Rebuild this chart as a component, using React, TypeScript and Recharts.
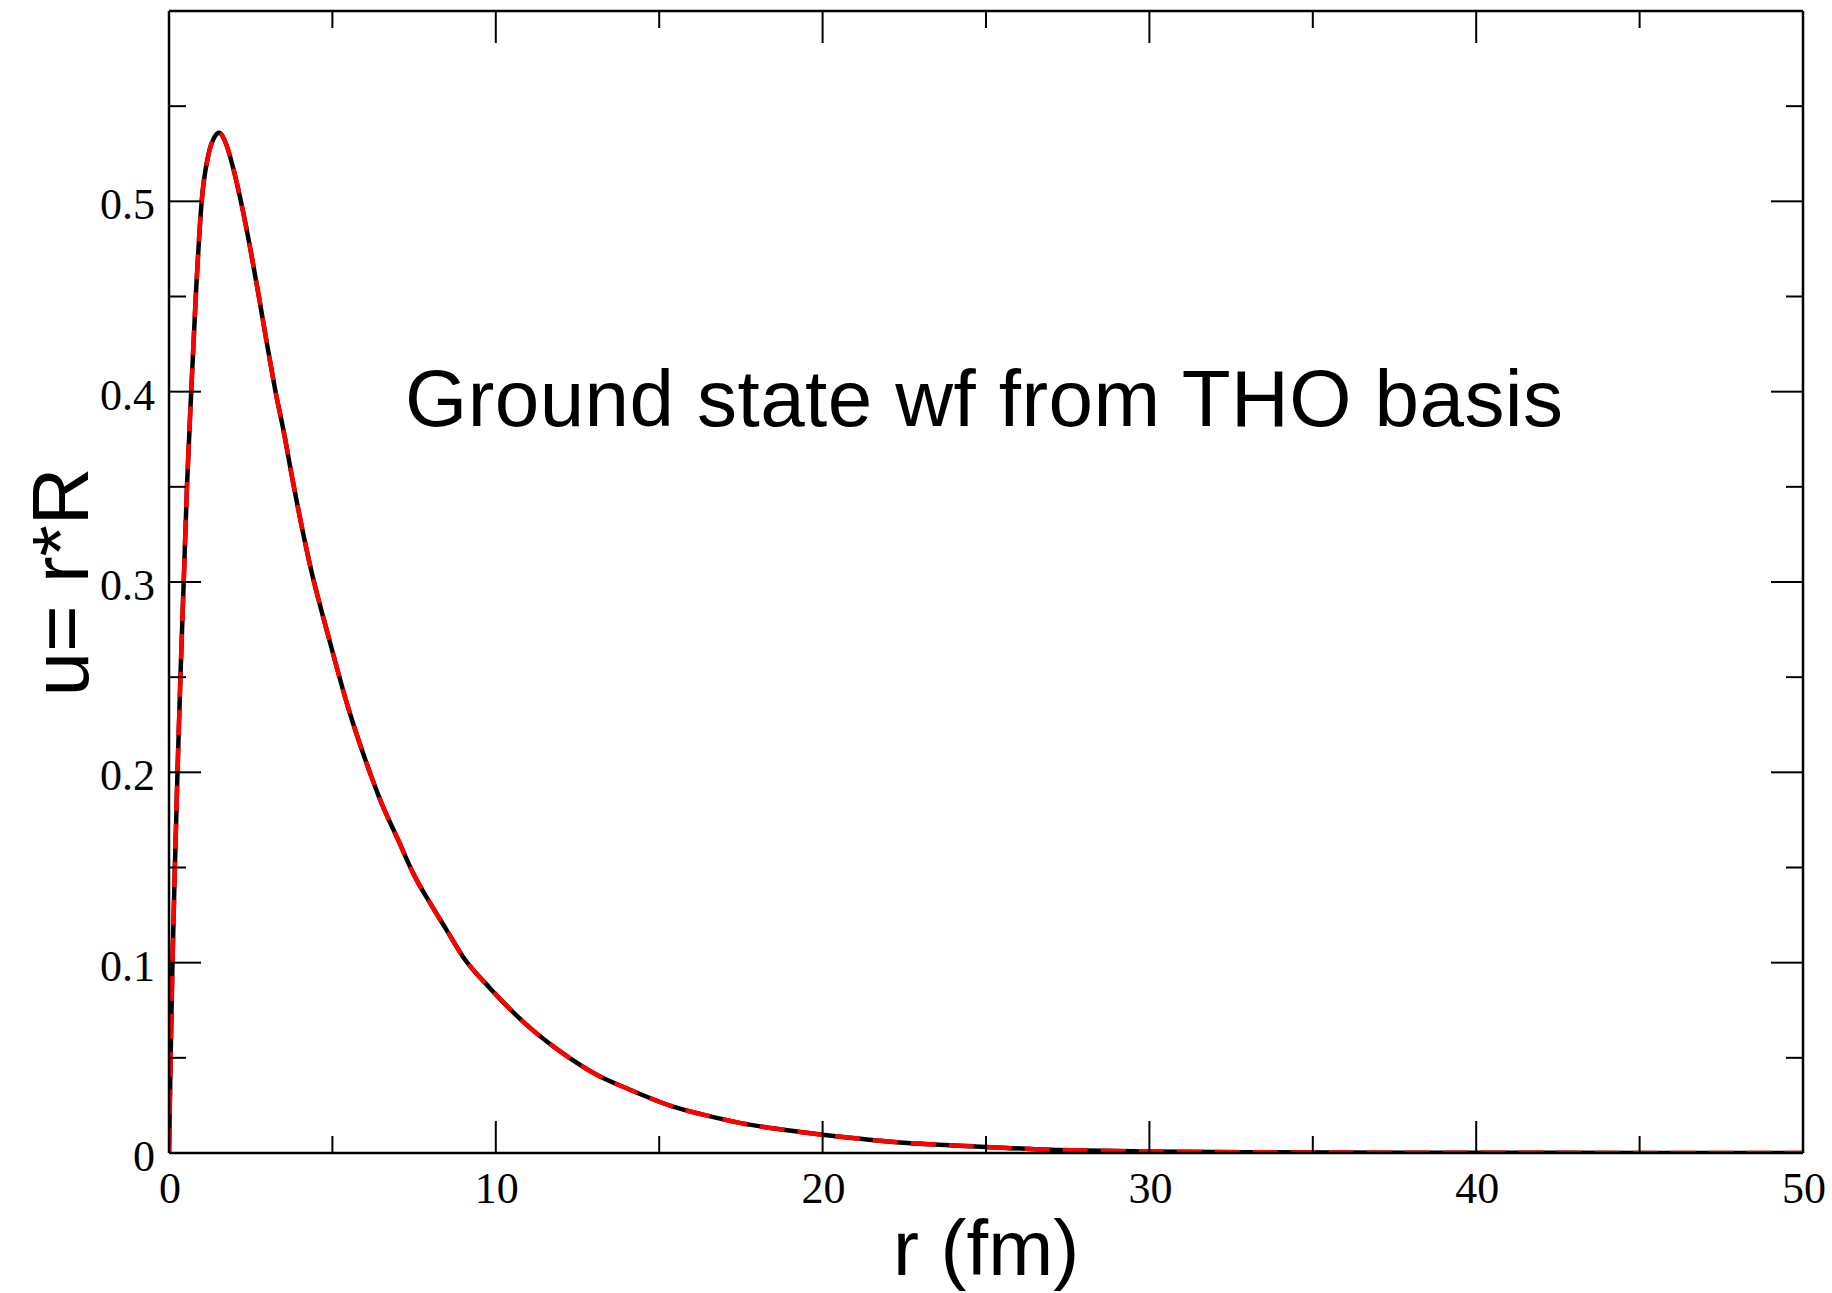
import { LineChart, Line, XAxis, YAxis } from "recharts";

// r in fm, u = r*R
const rValues = [
  0, 0.05, 0.1, 0.18, 0.26, 0.35, 0.45, 0.55, 0.68, 0.82, 1.0, 1.2, 1.4, 1.53, 1.75, 2.0, 2.2, 2.5, 2.75, 3.0,
  3.26, 3.5, 3.8, 4.3, 4.9, 5.5, 6.0, 6.5, 7.0, 7.5, 8.0, 8.5, 9.0, 9.8, 10.9, 12.0, 13.1, 14.0, 15.4, 16.5,
  17.5, 18.8, 20, 21.3, 22.6, 24, 25, 26.5, 28, 30, 33, 36, 40, 45, 50,
];
const uExact = [
  0, 0.05, 0.095, 0.15, 0.2, 0.25, 0.3, 0.35, 0.4, 0.45, 0.5, 0.524, 0.534, 0.536, 0.53, 0.515, 0.5, 0.474, 0.45, 0.425,
  0.4, 0.38, 0.352, 0.31, 0.27, 0.233, 0.207, 0.184, 0.165, 0.146, 0.131, 0.117, 0.103, 0.087, 0.068, 0.053, 0.041, 0.034, 0.0245, 0.0195,
  0.0157, 0.0122, 0.0096, 0.0072, 0.0052, 0.004, 0.0032, 0.002, 0.0013, 0.0008, 0.0004, 0.0002, 0.0001, 0.00005, 0,
];
const uTho = [
  0, 0.05, 0.095, 0.15, 0.2, 0.25, 0.3, 0.35, 0.4, 0.45, 0.5, 0.524, 0.534, 0.536, 0.53, 0.515, 0.5, 0.474, 0.45, 0.425,
  0.4, 0.38, 0.352, 0.31, 0.27, 0.233, 0.207, 0.184, 0.165, 0.146, 0.131, 0.117, 0.103, 0.087, 0.068, 0.053, 0.041, 0.034, 0.0245, 0.0195,
  0.0157, 0.0122, 0.0096, 0.0072, 0.0052, 0.004, 0.0032, 0.002, 0.0013, 0.0008, 0.0004, 0.0002, 0.0001, 0.00005, 0,
];

const xTicks = [0, 5, 10, 15, 20, 25, 30, 35, 40, 45, 50];
const yTicks = [0, 0.05, 0.1, 0.15, 0.2, 0.25, 0.3, 0.35, 0.4, 0.45, 0.5, 0.55, 0.6];
const xLabels = [0, 10, 20, 30, 40, 50];
const yLabels = [0, 0.1, 0.2, 0.3, 0.4, 0.5];

const data = rValues.map((r, i) => ({ r, exact: uExact[i], tho: uTho[i] }));

const W = 1832;
const H = 1293;
const MAJOR = 32;
const MINOR = 17;
const serif = "'Liberation Serif', 'Times New Roman', serif";
const sans = "'Liberation Sans', Arial, Helvetica, sans-serif";
const axisStyle = { stroke: "#000", strokeWidth: 2.5 };

const isLabelled = (list: number[], v: number) => list.some((l) => Math.abs(l - v) < 1e-6);
const isMajorY = (v: number) => isLabelled(yLabels, v) || v > 0.59;

const BottomTick = ({ x, y, payload }: any) => {
  const major = isLabelled(xLabels, payload.value);
  return (
    <g>
      <line x1={x} x2={x} y1={y} y2={y - (major ? MAJOR : MINOR)} stroke="#000" strokeWidth={2} />
      {major && (
        <text x={x + 1} y={y + 50} textAnchor="middle" fontFamily={serif} fontSize={44} fill="#000">
          {payload.value}
        </text>
      )}
    </g>
  );
};

const TopTick = ({ x, y, payload }: any) => {
  const major = isLabelled(xLabels, payload.value);
  return <line x1={x} x2={x} y1={y} y2={y + (major ? MAJOR : MINOR)} stroke="#000" strokeWidth={2} />;
};

const LeftTick = ({ x, y, payload }: any) => {
  const labelled = isLabelled(yLabels, payload.value);
  return (
    <g>
      <line x1={x} x2={x + (isMajorY(payload.value) ? MAJOR : MINOR)} y1={y} y2={y} stroke="#000" strokeWidth={2} />
      {labelled && (
        <text x={x - 14} y={y + 18} textAnchor="end" fontFamily={serif} fontSize={44} fill="#000">
          {payload.value}
        </text>
      )}
    </g>
  );
};

const RightTick = ({ x, y, payload }: any) => (
  <line x1={x} x2={x - (isMajorY(payload.value) ? MAJOR : MINOR)} y1={y} y2={y} stroke="#000" strokeWidth={2} />
);

export default function App() {
  return (
    <div style={{ position: "absolute", left: 0, top: 0, width: W, height: H, background: "#fff" }}>
      <LineChart width={W} height={H} data={data} margin={{ top: 11, right: 29, left: 0, bottom: 0 }}>
        <XAxis
          dataKey="r"
          type="number"
          domain={[0, 50]}
          ticks={xTicks}
          interval={0}
          height={140}
          tickSize={0}
          tickMargin={0}
          tickLine={false}
          axisLine={axisStyle}
          tick={<BottomTick />}
          allowDataOverflow
        />
        <XAxis
          xAxisId="top"
          orientation="top"
          dataKey="r"
          type="number"
          domain={[0, 50]}
          ticks={xTicks}
          interval={0}
          height={1}
          mirror
          tickSize={0}
          tickMargin={0}
          tickLine={false}
          axisLine={axisStyle}
          tick={<TopTick />}
          allowDataOverflow
        />
        <YAxis
          type="number"
          domain={[0, 0.6]}
          ticks={yTicks}
          interval={0}
          width={169}
          tickSize={0}
          tickMargin={0}
          tickLine={false}
          axisLine={axisStyle}
          tick={<LeftTick />}
          allowDataOverflow
        />
        <YAxis
          yAxisId="right"
          orientation="right"
          type="number"
          domain={[0, 0.6]}
          ticks={yTicks}
          interval={0}
          width={1}
          mirror
          tickSize={0}
          tickMargin={0}
          tickLine={false}
          axisLine={axisStyle}
          tick={<RightTick />}
          allowDataOverflow
        />
        <Line
          type="monotone"
          dataKey="exact"
          stroke="#000"
          strokeWidth={4.5}
          dot={false}
          activeDot={false}
          isAnimationActive={false}
        />
        <Line
          type="monotone"
          dataKey="tho"
          stroke="#ff0000"
          strokeWidth={4.5}
          strokeDasharray="25 13"
          dot={false}
          activeDot={false}
          isAnimationActive={false}
        />
      </LineChart>
      <svg width={W} height={H} style={{ position: "absolute", left: 0, top: 0, pointerEvents: "none" }}>
        <text x={405} y={426} fontFamily={sans} fontSize={80} textLength={1158} fill="#000">
          Ground state wf from THO basis
        </text>
        <text x={986} y={1275} textAnchor="middle" fontFamily={sans} fontSize={78} fill="#000">
          r (fm)
        </text>
        <text
          x={88}
          y={582}
          transform="rotate(-90 88 582)"
          textAnchor="middle"
          fontFamily={sans}
          fontSize={80}
          fill="#000"
        >
          u= r*R
        </text>
      </svg>
    </div>
  );
}
